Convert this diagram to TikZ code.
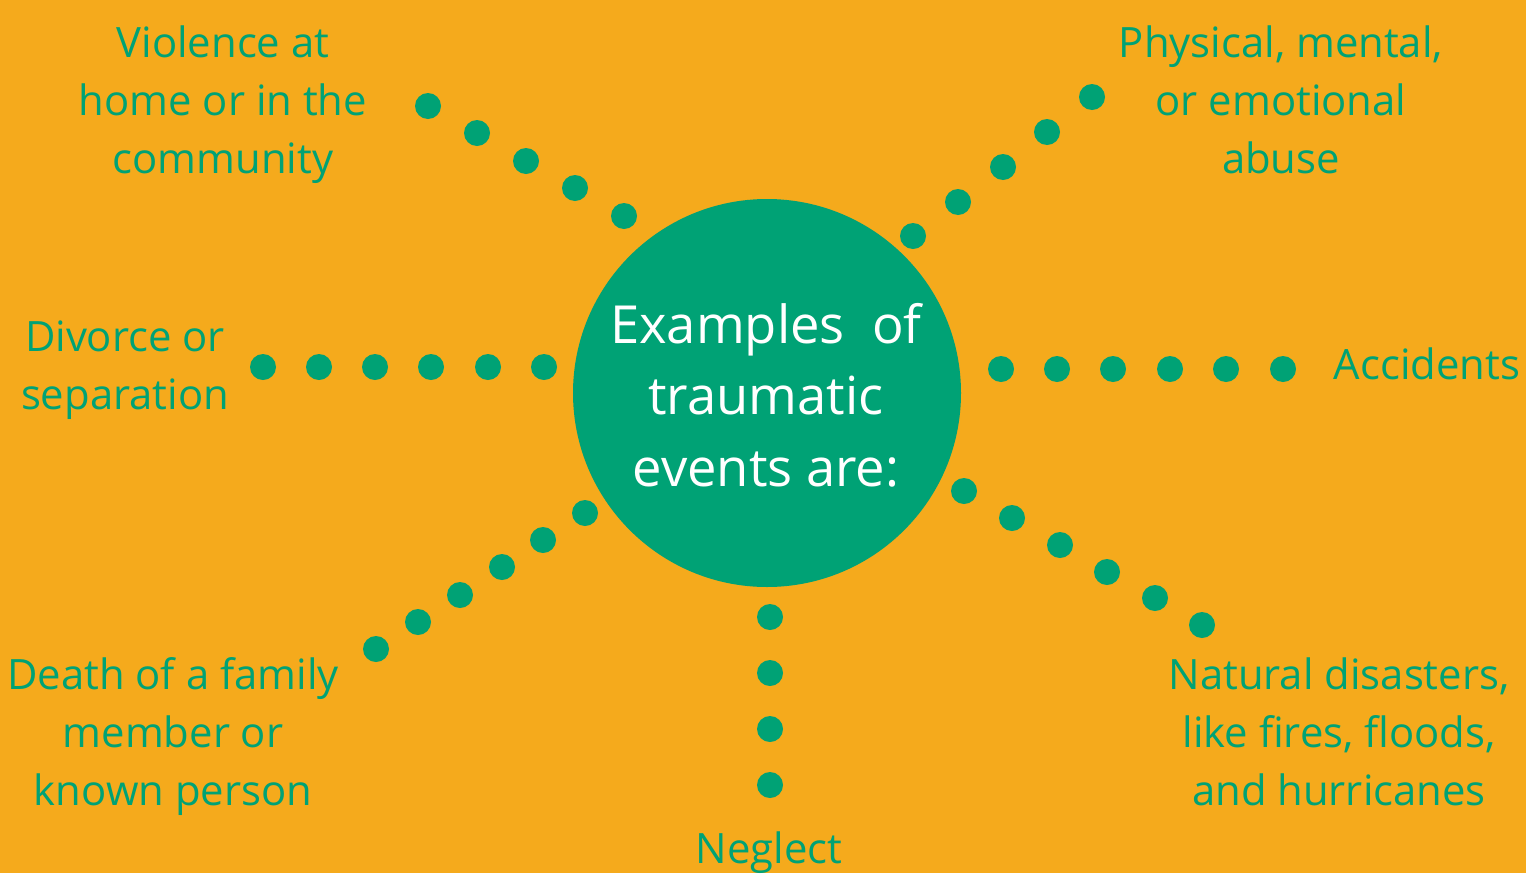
\documentclass[tikz,border=0pt]{standalone}
\usepackage{fontspec}
\setmainfont{Open Sans}
\definecolor{bgorange}{HTML}{F5AA1C}
\definecolor{tgreen}{HTML}{00A275}
\begin{document}
\begin{tikzpicture}[x=1pt,y=-1pt,
  dot/.style={circle,fill=tgreen,minimum size=26pt,inner sep=0pt},
  lab/.style={text=tgreen,align=center,inner sep=0pt,font=\fontsize{41.8}{58}\selectfont},
  hub/.style={circle,fill=tgreen,minimum size=388pt,inner sep=0pt}]
\fill[bgorange] (0,0) rectangle (1526,873);
\useasboundingbox (0,0) rectangle (1526,873);
\node[hub] (hub) at (767,393) {};
\node[text=white,align=center,inner sep=0pt,font=\fontsize{52.5}{71.5}\selectfont] (hubtxt) at (766,395) {Examples\ \ of\\traumatic\\events are:};
% upper-left
\foreach \x/\y [count=\i] in {428/106,477/133,526/161,575/188,624/216} \node[dot] (ul\i) at (\x,\y) {};
% upper-right
\foreach \x/\y [count=\i] in {1092/97,1047/132,1003/167,958/202,913/236} \node[dot] (ur\i) at (\x,\y) {};
% left
\foreach \x [count=\i] in {263,319,375,431,488,544} \node[dot] (l\i) at (\x,367) {};
% right
\foreach \x [count=\i] in {1001,1057,1113,1170,1226,1283} \node[dot] (r\i) at (\x,369) {};
% lower-left
\foreach \x/\y [count=\i] in {376/649,418/622,460/595,502/567,543/540,585/513} \node[dot] (ll\i) at (\x,\y) {};
% bottom
\foreach \y [count=\i] in {617,673,729,785} \node[dot] (b\i) at (770,\y) {};
% lower-right
\foreach \x/\y [count=\i] in {964/491,1012/518,1060/545,1107/572,1155/598,1202/625} \node[dot] (lr\i) at (\x,\y) {};
% labels
\node[lab] (violence) at (223,105) {Violence at\\home or in the\\community};
\node[lab] (physical) at (1281,100) {Physical, mental,\\or emotional\\abuse};
\node[lab] (divorce) at (125,370) {Divorce or\\separation};
\node[lab] (accidents) at (1427,364) {Accidents};
\node[lab] (death) at (173,737) {Death of a family\\member or\\known person};
\node[lab] (neglect) at (769,853) {Neglect};
\node[lab] (natural) at (1339,732) {Natural disasters,\\like fires, floods,\\and hurricanes};
\end{tikzpicture}
\end{document}
